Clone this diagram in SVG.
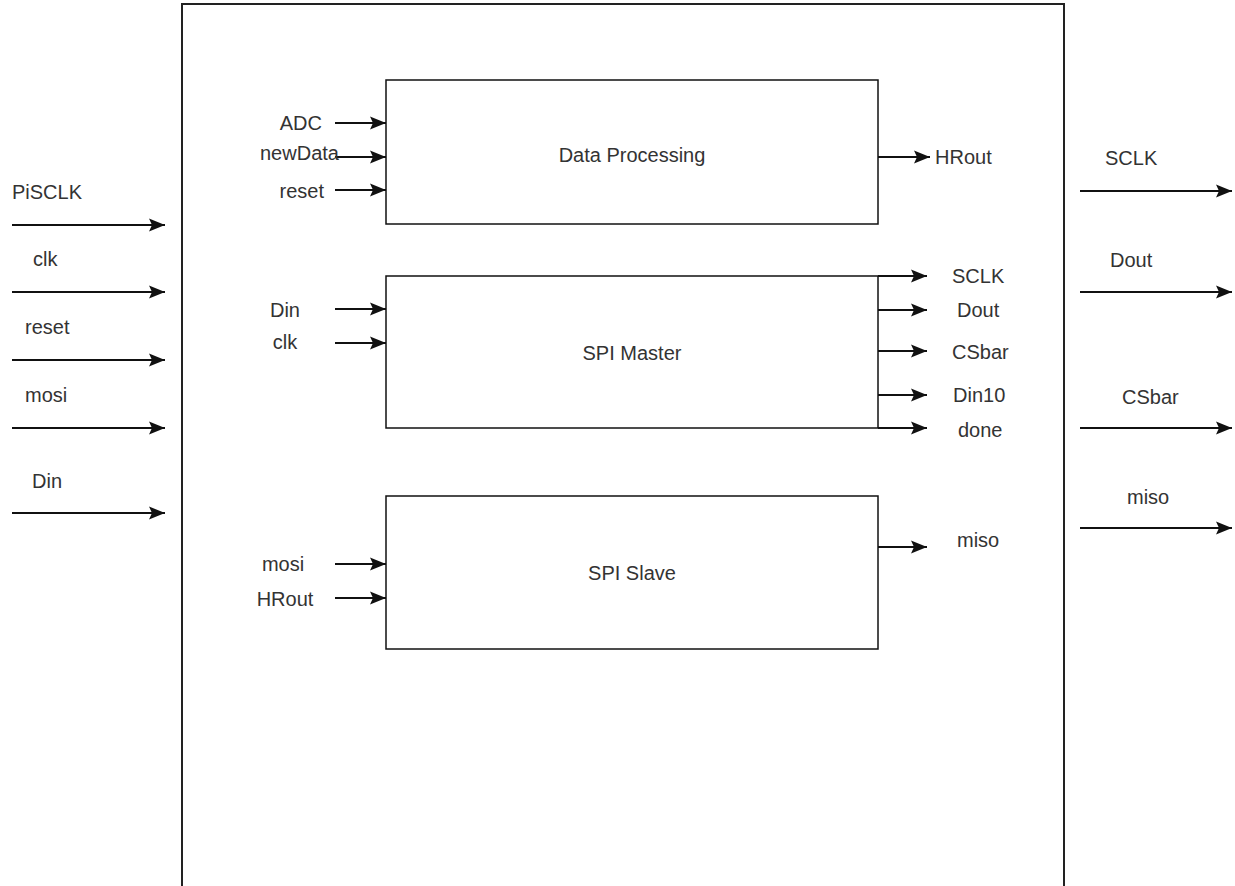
<svg xmlns="http://www.w3.org/2000/svg" width="1235" height="886" viewBox="0 0 1235 886">
<defs>
<marker id="arr" markerUnits="userSpaceOnUse" markerWidth="18" markerHeight="16" refX="16" refY="8" orient="auto">
<path d="M0,1.5 L16,8 L0,14.5 L3,8 Z" fill="#111"/>
</marker>
<style>
.box{fill:#fff;stroke:#111;stroke-width:1.5}
.w{stroke:#111;stroke-width:2;fill:none;marker-end:url(#arr)}
text{font-family:"Liberation Sans",Arial,sans-serif;font-size:20px;fill:#333;dominant-baseline:central}
.m{text-anchor:middle}
.e{text-anchor:end}
</style>
</defs>
<rect width="1235" height="886" fill="#fff"/>
<g id="system">
<rect x="182" y="4" width="882" height="900" fill="none" stroke="#222" stroke-width="2"/>
</g>
<g id="data-processing">
<rect class="box" x="386" y="80" width="492" height="144"/>
<text class="m" x="632" y="155">Data Processing</text>
</g>
<g id="spi-master">
<rect class="box" x="386" y="276" width="492" height="152"/>
<text class="m" x="632" y="353">SPI Master</text>
</g>
<g id="spi-slave">
<rect class="box" x="386" y="496" width="492" height="153"/>
<text class="m" x="632" y="573">SPI Slave</text>
</g>
<g id="connectors">
<line class="w" x1="12" y1="225" x2="165" y2="225"/>
<line class="w" x1="12" y1="292" x2="165" y2="292"/>
<line class="w" x1="12" y1="360" x2="165" y2="360"/>
<line class="w" x1="12" y1="428" x2="165" y2="428"/>
<line class="w" x1="12" y1="513" x2="165" y2="513"/>
<line class="w" x1="335" y1="123" x2="386" y2="123"/>
<line class="w" x1="335" y1="157" x2="386" y2="157"/>
<line class="w" x1="335" y1="190" x2="386" y2="190"/>
<line class="w" x1="878" y1="157" x2="930" y2="157"/>
<line class="w" x1="335" y1="309" x2="386" y2="309"/>
<line class="w" x1="335" y1="343" x2="386" y2="343"/>
<line class="w" x1="878" y1="276" x2="927" y2="276"/>
<line class="w" x1="878" y1="310" x2="927" y2="310"/>
<line class="w" x1="878" y1="351" x2="927" y2="351"/>
<line class="w" x1="878" y1="395" x2="927" y2="395"/>
<line class="w" x1="878" y1="428" x2="927" y2="428"/>
<line class="w" x1="335" y1="564" x2="386" y2="564"/>
<line class="w" x1="335" y1="598" x2="386" y2="598"/>
<line class="w" x1="878" y1="547" x2="927" y2="547"/>
<line class="w" x1="1080" y1="191" x2="1232" y2="191"/>
<line class="w" x1="1080" y1="292" x2="1232" y2="292"/>
<line class="w" x1="1080" y1="428" x2="1232" y2="428"/>
<line class="w" x1="1080" y1="528" x2="1232" y2="528"/>
</g>
<g id="labels">
<text x="12" y="192">PiSCLK</text>
<text x="33" y="259">clk</text>
<text x="25" y="327">reset</text>
<text x="25" y="395">mosi</text>
<text x="32" y="481">Din</text>
<text class="e" x="322" y="123">ADC</text>
<text x="260" y="153">newData</text>
<text class="e" x="324" y="191">reset</text>
<text x="935" y="157">HRout</text>
<text class="m" x="285" y="310">Din</text>
<text class="m" x="285" y="342">clk</text>
<text x="952" y="276">SCLK</text>
<text x="957" y="310">Dout</text>
<text x="952" y="352">CSbar</text>
<text x="953" y="395">Din10</text>
<text x="958" y="430">done</text>
<text class="m" x="283" y="564">mosi</text>
<text class="m" x="285" y="599">HRout</text>
<text x="957" y="540">miso</text>
<text x="1105" y="158">SCLK</text>
<text x="1110" y="260">Dout</text>
<text x="1122" y="397">CSbar</text>
<text x="1127" y="497">miso</text>
</g>
</svg>
